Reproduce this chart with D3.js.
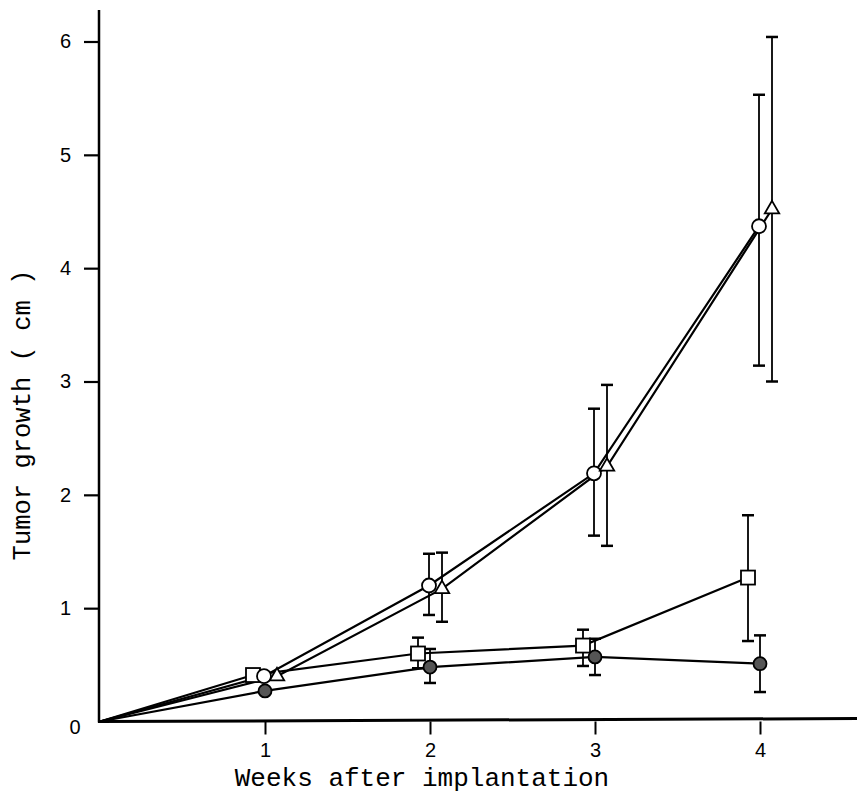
<!DOCTYPE html>
<html>
<head>
<meta charset="utf-8">
<script src="https://cdn.jsdelivr.net/npm/d3@7"></script>
<style>
  body { margin: 0; background: #fff; }
  svg { display: block; }
</style>
</head>
<body>
<div id="chart"></div>
<script>
// data (tumor growth in cm, by week)
const weeks = [0, 1, 2, 3, 4];
const xTicks = [1, 2, 3, 4];
const yTicks = [1, 2, 3, 4, 5, 6];

const circleVals = [0, 0.40, 1.20, 2.19, 4.37];
const circleHi   = [null, null, 1.48, 2.76, 5.53];
const circleLo   = [null, null, 0.94, 1.64, 3.14];

const triVals = [0, 0.40, 1.17, 2.25, 4.52];
const triHi   = [null, null, 1.49, 2.97, 6.04];
const triLo   = [null, null, 0.88, 1.55, 3.00];

const squareVals = [0, 0.41, 0.60, 0.67, 1.27];
const squareHi   = [null, null, 0.74, 0.81, 1.82];
const squareLo   = [null, null, 0.47, 0.49, 0.71];

const filledVals = [0, 0.27, 0.48, 0.57, 0.51];
const filledHi   = [null, null, 0.64, 0.73, 0.76];
const filledLo   = [null, null, 0.34, 0.41, 0.26];

const W = 857, H = 794;
const svg = d3.select('#chart').append('svg')
  .attr('width', W).attr('height', H);

const x = d3.scaleLinear().domain([0, 4]).range([100, 760]);
const y = d3.scaleLinear().domain([0, 6]).range([721.5, 41.5]);

// series config: shape + small horizontal nudge so markers don't overlap
const series = [
  { name: 'square', vals: squareVals, hi: squareHi, lo: squareLo, shape: 'square', dx: -12 },
  { name: 'filled', vals: filledVals, hi: filledHi, lo: filledLo, shape: 'filled', dx: 0 },
  { name: 'circle', vals: circleVals, hi: circleHi, lo: circleLo, shape: 'circle', dx: -1 },
  { name: 'tri', vals: triVals, hi: triHi, lo: triLo, shape: 'triangle', dx: 12 },
];

const px = (s, i) => x(weeks[i]) + (i === 0 ? 0 : s.dx);
const tickFont = '"Liberation Sans Narrow", "Liberation Sans", Arial, sans-serif';

// axes
const yAxis = svg.append('g')
  .attr('transform', `translate(${x(0) - 1},0)`)
  .call(d3.axisLeft(y).tickValues(yTicks).tickSize(15).tickPadding(13).tickFormat(d3.format('d')));
yAxis.select('.domain').remove();
yAxis.selectAll('line').attr('stroke-width', 2.2);
yAxis.selectAll('text')
  .style('font-family', tickFont)
  .style('font-size', '20px')
  .attr('fill', '#000');

svg.append('line')
  .attr('x1', x(0) - 1).attr('x2', x(0) - 1)
  .attr('y1', 10).attr('y2', y(0) + 1)
  .attr('stroke', '#000').attr('stroke-width', 2.5);

const xAxis = svg.append('g')
  .attr('transform', `translate(0,${y(0)})`)
  .call(d3.axisBottom(x).tickValues(xTicks).tickSize(13).tickPadding(8).tickFormat(d3.format('d')));
xAxis.select('.domain').remove();
xAxis.selectAll('line').attr('stroke-width', 2);
xAxis.selectAll('text')
  .style('font-family', tickFont)
  .style('font-size', '20px')
  .attr('fill', '#000');

svg.append('line')
  .attr('x1', x(0) - 2).attr('x2', W)
  .attr('y1', y(0)).attr('y2', y(0) - 3)
  .attr('stroke', '#000').attr('stroke-width', 3);

// zero label
svg.append('text')
  .attr('x', 75).attr('y', y(0) + 7)
  .attr('text-anchor', 'middle').attr('dominant-baseline', 'middle')
  .style('font-family', tickFont)
  .style('font-size', '20px')
  .text('0');

// axis titles
svg.append('text')
  .attr('x', 422).attr('y', 786)
  .attr('text-anchor', 'middle')
  .style('font-family', '"Liberation Mono", "DejaVu Sans Mono", monospace')
  .style('font-size', '26px')
  .text('Weeks after implantation');

svg.append('text')
  .attr('transform', 'translate(30,415) rotate(-90)')
  .attr('text-anchor', 'middle')
  .style('font-family', '"Liberation Mono", "DejaVu Sans Mono", monospace')
  .style('font-size', '25.5px')
  .text('Tumor growth ( cm )');

// lines
const line = d3.line();
series.forEach(s => {
  svg.append('path')
    .attr('d', line(weeks.map((w, i) => [px(s, i), y(s.vals[i])])))
    .attr('fill', 'none')
    .attr('stroke', '#000')
    .attr('stroke-width', 2.2);
});

// error bars
series.forEach(s => {
  const idx = weeks.map((w, i) => i).filter(i => s.hi[i] != null);
  const g = svg.append('g').attr('stroke', '#000').attr('stroke-width', 1.8);
  g.selectAll('.v').data(idx).join('line')
    .attr('x1', i => px(s, i)).attr('x2', i => px(s, i))
    .attr('y1', i => y(s.hi[i])).attr('y2', i => y(s.lo[i]));
  g.selectAll('.ct').data(idx).join('line')
    .attr('x1', i => px(s, i) - 6).attr('x2', i => px(s, i) + 6)
    .attr('y1', i => y(s.hi[i])).attr('y2', i => y(s.hi[i]))
    .attr('stroke-width', 2.5);
  g.selectAll('.cb').data(idx).join('line')
    .attr('x1', i => px(s, i) - 6).attr('x2', i => px(s, i) + 6)
    .attr('y1', i => y(s.lo[i])).attr('y2', i => y(s.lo[i]))
    .attr('stroke-width', 2.5);
});

// markers
series.forEach(s => {
  const idx = weeks.map((w, i) => i).filter(i => i > 0);
  const g = svg.append('g');
  if (s.shape === 'square') {
    g.selectAll('rect').data(idx).join('rect')
      .attr('x', i => px(s, i) - 7).attr('y', i => y(s.vals[i]) - 7)
      .attr('width', 14).attr('height', 14)
      .attr('fill', '#fff').attr('stroke', '#000').attr('stroke-width', 1.8);
  } else if (s.shape === 'circle' || s.shape === 'filled') {
    g.selectAll('circle').data(idx).join('circle')
      .attr('cx', i => px(s, i)).attr('cy', i => y(s.vals[i]))
      .attr('r', s.shape === 'circle' ? 7 : 6.5)
      .attr('fill', s.shape === 'circle' ? '#fff' : '#555')
      .attr('stroke', '#000').attr('stroke-width', 1.8);
  } else {
    const tri = d3.symbol().type(d3.symbolTriangle).size(90);
    g.selectAll('path').data(idx).join('path')
      .attr('d', tri)
      .attr('transform', i => `translate(${px(s, i)},${y(s.vals[i])})`)
      .attr('fill', '#fff').attr('stroke', '#000').attr('stroke-width', 1.8);
  }
});
</script>
</body>
</html>
